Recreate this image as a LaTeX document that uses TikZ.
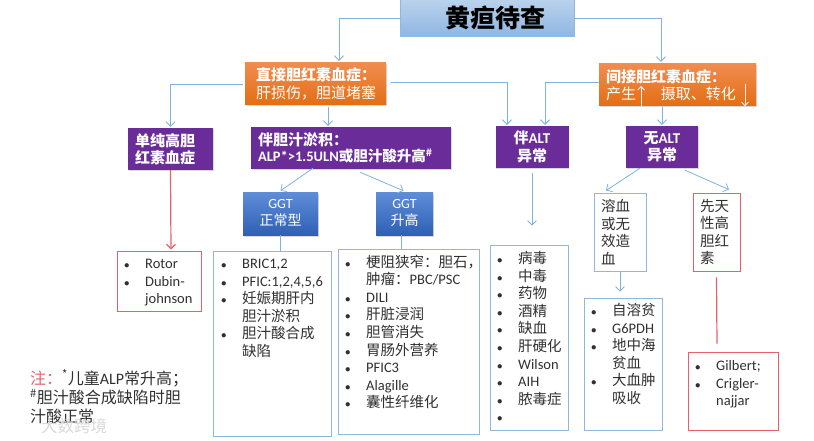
\documentclass[tikz,border=0pt]{standalone}
\usepackage{fontspec}
\setmainfont{Noto Sans CJK SC}
\newfontfamily\la{Carlito}
\usetikzlibrary{arrows.meta,shadows}
\definecolor{linkblue}{HTML}{7FB2DF}
\definecolor{boxblue}{HTML}{8DB8DF}
\definecolor{boxred}{HTML}{E8606A}
\definecolor{txtgray}{HTML}{303030}
\definecolor{deeppurple}{HTML}{6A2C98}
\definecolor{headtop}{HTML}{BAD2EC}
\definecolor{headbot}{HTML}{8FB6E2}
\definecolor{orangetop}{HTML}{F08C50}
\definecolor{orangebot}{HTML}{E36E14}
\definecolor{ggttop}{HTML}{5F8DD8}
\definecolor{ggtbot}{HTML}{2E60B4}
\tikzset{
	softshadow/.style={drop shadow={shadow xshift=0.6pt,shadow yshift=-1.5pt,opacity=.3}},
	headbox/.style={draw=boxblue,thick,top color=headtop,bottom color=headbot,inner sep=0pt,font=\fontsize{25}{30}\selectfont\bfseries,text=black},
	orangebox/.style={top color=orangetop,bottom color=orangebot,softshadow,text=white,align=left,inner xsep=11pt,inner ysep=0pt,font=\fontsize{15}{17.5}\selectfont},
	purplebox/.style={fill=deeppurple,softshadow,text=white,inner sep=0pt,align=center,font=\fontsize{15}{17.5}\selectfont},
	ggtbox/.style={top color=ggttop,bottom color=ggtbot,softshadow,text=white,inner sep=0pt,align=center,font=\fontsize{14}{17}\selectfont},
	listbox/.style={draw=boxblue,thick,inner sep=0pt},
	redbox/.style={draw=boxred,thick,inner sep=0pt},
	plaintext/.style={text=txtgray,inner sep=0pt,align=left,font=\fontsize{14.5}{17.6}\selectfont},
	link/.style={draw=linkblue,thick,-{Straight Barb[length=4.5pt,width=9pt]}},
	redlink/.style={draw=boxred,line width=1.2pt},
}
\newcommand{\itemdot}{{\fontsize{10.5}{12}\selectfont$\bullet$}}
\newcommand{\zhcolon}{\char"FF1A\relax}
\newcommand{\zhcomma}{\char"FF0C\relax}
\newcommand{\zhsemi}{\char"FF1B\relax}
\begin{document}
\begin{tikzpicture}[x=1pt,y=-1pt]
	\useasboundingbox (0,0) rectangle (814,441);

	\node[headbox,minimum width=174pt,minimum height=37pt] (title) at (487,18) {\hspace{16pt}黄疸待查};

	\node[orangebox,text width=119pt,minimum height=42pt] (direct) at (315.5,84) {\textbf{直接胆红素血症\zhcolon}\\肝损伤\zhcomma 胆道堵塞};
	\node[orangebox,minimum height=42pt,inner xsep=7pt,text width=143pt] (indirect) at (677.5,85) {\textbf{间接胆红素血症\zhcolon}\\产生\hspace{25pt}摄取、转化};
	\coordinate (upend) at (641,86);
	\coordinate (downstart) at (745,84);
	\draw[white,thick,-{Straight Barb[length=3.5pt,width=7pt]}] (upend|-indirect.south) -- (upend);
	\draw[white,thick,-{Straight Barb[length=3.5pt,width=7pt]}] (downstart) -- (downstart|-indirect.south);

	\node[purplebox,minimum width=85pt,minimum height=42pt,inner xsep=7pt,align=left,text width=71pt] (single) at (170.5,149) {\textbf{单纯高胆}\\\textbf{红素血症}};
	\node[purplebox,minimum width=200pt,minimum height=42pt,inner xsep=7pt,align=left,text width=186pt] (chole) at (351,148) {\textbf{伴胆汁淤积\zhcolon}\\[-1pt]{\fontsize{14.5}{17}\selectfont{\la\bfseries ALP*>1.5ULN}\textbf{或胆汁酸升高\textsuperscript{\#}}}};
	\node[purplebox,minimum width=73pt,minimum height=42pt] (withalt) at (532,147) {\textbf{伴}{\la\bfseries ALT}\\\textbf{异常}};
	\node[purplebox,minimum width=72pt,minimum height=42pt] (noalt) at (662,147) {\textbf{无}{\la\bfseries ALT}\\\textbf{异常}};

	\node[ggtbox,minimum width=75pt,minimum height=43pt] (ggtnormal) at (280.5,213.5) {{\la GGT}\\正常型};
	\node[ggtbox,minimum width=57pt,minimum height=43pt] (ggthigh) at (404.5,213.5) {{\la GGT}\\升高};

	\node[redbox,minimum width=84pt,minimum height=60pt] (rotorbox) at (159,281) {};
	\node[plaintext,anchor=north west] (rotortxt) at (124,256) {\begin{tabular}{@{}p{21pt}@{}l@{}}
		\itemdot & {\la Rotor}\\
		\itemdot & {\la Dubin-}\\
		& {\la johnson}
	\end{tabular}};

	\node[listbox,minimum width=118pt,minimum height=185pt] (normalbox) at (272,343.5) {};
	\node[plaintext,anchor=north west] (normaltxt) at (221,256) {\begin{tabular}{@{}p{21pt}@{}l@{}}
		\itemdot & {\la BRIC1,2}\\
		\itemdot & {\la PFIC:1,2,4,5,6}\\
		\itemdot & 妊娠期肝内\\
		& 胆汁淤积\\
		\itemdot & 胆汁酸合成\\
		& 缺陷
	\end{tabular}};

	\node[listbox,minimum width=141pt,minimum height=185pt] (highbox) at (408.5,341.5) {};
	\node[plaintext,anchor=north west] (hightxt) at (345,254.5) {\begin{tabular}{@{}p{21pt}@{}l@{}}
		\itemdot & 梗阻狭窄\zhcolon 胆石\zhcomma\\
		& 肿瘤\zhcolon{\la PBC/PSC}\\
		\itemdot & {\la DILI}\\
		\itemdot & 肝脏浸润\\
		\itemdot & 胆管消失\\
		\itemdot & 胃肠外营养\\
		\itemdot & {\la PFIC3}\\
		\itemdot & {\la Alagille}\\
		\itemdot & 囊性纤维化
	\end{tabular}};

	\node[listbox,minimum width=78pt,minimum height=185pt] (altbox) at (529,337.5) {};
	\node[plaintext,anchor=north west] (alttxt) at (497,251) {\begin{tabular}{@{}p{21pt}@{}l@{}}
		\itemdot & 病毒\\
		\itemdot & 中毒\\
		\itemdot & 药物\\
		\itemdot & 酒精\\
		\itemdot & 缺血\\
		\itemdot & 肝硬化\\
		\itemdot & {\la Wilson}\\
		\itemdot & {\la AIH}\\
		\itemdot & 脓毒症\\
		\itemdot &
	\end{tabular}};

	\node[listbox,minimum width=52pt,minimum height=78pt,text width=38pt,align=left,font=\fontsize{14.5}{17.6}\selectfont,text=txtgray] (hemo) at (620,232) {溶血\\或无\\效造\\血};
	\node[redbox,minimum width=47pt,minimum height=78pt,text width=33pt,align=left,font=\fontsize{14.5}{17.6}\selectfont,text=txtgray] (congen) at (716.5,232) {先天\\性高\\胆红\\素};

	\node[listbox,minimum width=78pt,minimum height=132pt] (hemobox) at (623,364) {};
	\node[plaintext,anchor=north west] (hemotxt) at (591,303) {\begin{tabular}{@{}p{21pt}@{}l@{}}
		\itemdot & 自溶贫\\
		\itemdot & {\la G6PDH}\\
		\itemdot & 地中海\\
		& 贫血\\
		\itemdot & 大血肿\\
		& 吸收
	\end{tabular}};

	\node[redbox,minimum width=90pt,minimum height=78pt] (gilbertbox) at (733,391) {};
	\node[plaintext,anchor=north west] (gilberttxt) at (695,358) {\begin{tabular}{@{}p{21pt}@{}l@{}}
		\itemdot & {\la Gilbert;}\\
		\itemdot & {\la Crigler-}\\
		& {\la najjar}
	\end{tabular}};

	\node[plaintext,anchor=north west,font=\fontsize{16}{19}\selectfont] (note) at (30,369) {\textcolor{boxred}{注\zhcolon}\textsuperscript{*}儿童{\la ALP}常升高\zhsemi\\\textsuperscript{\#}胆汁酸合成缺陷时胆\\汁酸正常};
	\node[text=gray!30,inner sep=0pt,font=\fontsize{16.5}{18}\selectfont] (mark) at (74,426) {大数跨境};

	% links
	\draw[link] (title.west) -| ([xshift=23.5pt,yshift=2pt]direct.north);
	\draw[link] (title.east) -| ([xshift=-16.5pt,yshift=2pt]indirect.north);
	\draw[link] ([xshift=-2pt]direct.west) -| ([yshift=1pt]single.north);
	\draw[link] ([xshift=12.5pt,yshift=-2pt]direct.south) -- ([xshift=-23pt,yshift=1pt]chole.north);
	\draw[link] ([xshift=5pt,yshift=2pt]direct.east) -| ([xshift=-25pt,yshift=1pt]withalt.north);
	\draw[link] ([yshift=3pt]indirect.west) -| ([xshift=13pt,yshift=1pt]withalt.north);
	\draw[link] ([xshift=-15.5pt,yshift=-1pt]indirect.south) -- ([yshift=1pt]noalt.north);
	\draw[link] ([xshift=-38pt,yshift=1pt]chole.south) -- ([yshift=1pt]ggtnormal.north);
	\draw[link] ([xshift=9pt,yshift=-3pt]chole.south) -- ([xshift=-1pt,yshift=1pt]ggthigh.north);
	\draw[linkblue,thick] (ggtnormal.south) -- (ggtnormal.south|-normalbox.north);
	\draw[linkblue,thick] ([xshift=-3pt]ggthigh.south) -- ([xshift=-3pt]ggthigh.south|-highbox.north);
	\draw[link] ([yshift=-5pt]withalt.south) -- ([xshift=3pt,yshift=19pt]altbox.north);
	\draw[link] ([xshift=-22pt]noalt.south) -- ([xshift=-14pt,yshift=2pt]hemo.north);
	\draw[link] ([xshift=23pt,yshift=-2pt]noalt.south) -- ([xshift=12.5pt,yshift=3pt]congen.north);
	\draw[link] ([yshift=-1pt]hemo.south) -- ([xshift=-3pt,yshift=6pt]hemobox.north);
	\draw[redlink,-{Straight Barb[length=4.5pt,width=9pt]}] (single.south) -- ([xshift=12pt,yshift=1pt]rotorbox.north);
	\draw[redlink] ([yshift=-6pt]congen.south) -- ([xshift=-16pt,yshift=8pt]gilbertbox.north);
\end{tikzpicture}
\end{document}
